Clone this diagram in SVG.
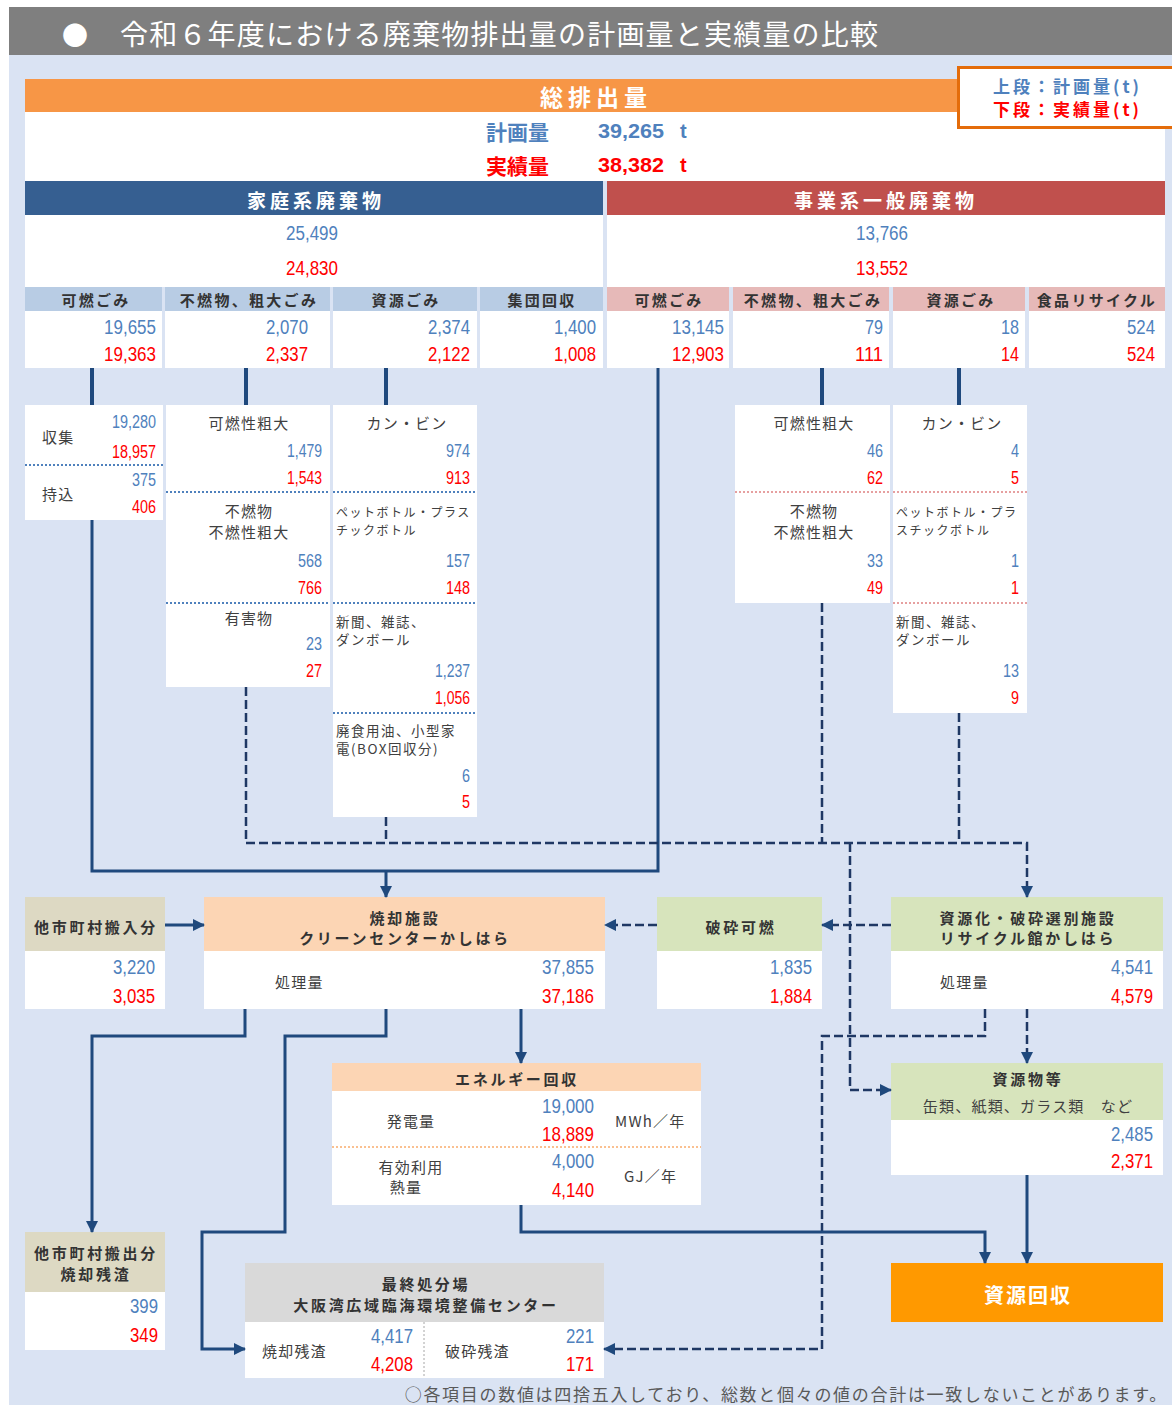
<svg xmlns="http://www.w3.org/2000/svg" width="1172" height="1405" viewBox="0 0 1172 1405">
<style>
.jp{font-family:'Noto Sans CJK JP',sans-serif}
.num{font-family:'Liberation Sans',sans-serif;font-size:20px;text-anchor:end;dominant-baseline:central}
.sn{font-size:18px}
.st{text-anchor:start}
.pl{fill:#4F81BD}
.ac{fill:#FF0000}
.hd{font-family:'Noto Sans CJK JP',sans-serif;font-weight:bold;text-anchor:middle;dominant-baseline:central}
.hb{font-size:15px;fill:#333;letter-spacing:2.7px}
.sub{font-family:'Noto Sans CJK JP',sans-serif;font-weight:bold;font-size:15px;fill:#333;text-anchor:middle;dominant-baseline:central;letter-spacing:2.3px}
.lbl{font-family:'Noto Sans CJK JP',sans-serif;font-size:15px;fill:#404040;dominant-baseline:central;letter-spacing:1.2px}
.mid{text-anchor:middle}
.sm{font-size:12px;letter-spacing:1.5px}
.sm2{font-size:13.5px;letter-spacing:1.5px}
.sol{stroke:#1F497D;stroke-width:3;fill:none}
.stub{stroke:#1F497D;stroke-width:4;fill:none}
.dsh{stroke:#1F3864;stroke-width:2.5;fill:none;stroke-dasharray:9 4}
.bdot{stroke:#4F81BD;stroke-width:2;stroke-dasharray:2 2}
.pdot{stroke:#E6A0A0;stroke-width:2;stroke-dasharray:2 2}
</style>
<defs>
<marker id="ah" markerUnits="userSpaceOnUse" markerWidth="12" markerHeight="12" refX="11" refY="6" orient="auto">
<path d="M0,0 L12,6 L0,12 z" fill="#1F497D"/>
</marker>
</defs>
<rect x="0" y="0" width="1172" height="1405" fill="#fff"/>
<rect x="9" y="7" width="1163" height="48" fill="#7F7F7F"/>
<rect x="9" y="55" width="1163" height="1350" fill="#DAE3F3"/>
<text class="jp" x="75" y="33" font-size="26" fill="#fff" text-anchor="middle" dominant-baseline="central">●</text>
<text class="jp" x="120" y="33" font-size="28" fill="#fff" dominant-baseline="central" letter-spacing="1.2">令和６年度における廃棄物排出量の計画量と実績量の比較</text>

<g id="total">
<rect x="25" y="79" width="1140" height="33" fill="#F79646"/>
<text class="hd" x="596" y="96" font-size="23" fill="#fff" letter-spacing="5">総排出量</text>
<rect x="25" y="112" width="1140" height="69" fill="#fff"/>
<text class="jp" x="486" y="131" font-size="21" font-weight="bold" fill="#4F81BD" dominant-baseline="central">計画量</text>
<text class="num st" x="598" y="131" font-size="22" font-weight="bold" fill="#4F81BD" textLength="66" lengthAdjust="spacingAndGlyphs">39,265</text>
<text class="num st" x="680" y="131" font-size="22" font-weight="bold" fill="#4F81BD">t</text>
<text class="jp" x="486" y="165" font-size="21" font-weight="bold" fill="#FF0000" dominant-baseline="central">実績量</text>
<text class="num st" x="598" y="165" font-size="22" font-weight="bold" fill="#FF0000" textLength="66" lengthAdjust="spacingAndGlyphs">38,382</text>
<text class="num st" x="680" y="165" font-size="22" font-weight="bold" fill="#FF0000">t</text>
</g>

<g id="legend">
<rect x="958.5" y="67.5" width="220" height="60" fill="#fff" stroke="#E46C0A" stroke-width="3"/>
<text class="jp" x="993" y="85" font-size="17" font-weight="bold" fill="#4F81BD" dominant-baseline="central" letter-spacing="3">上段：計画量(t)</text>
<text class="jp" x="993" y="108" font-size="17" font-weight="bold" fill="#FF0000" dominant-baseline="central" letter-spacing="3">下段：実績量(t)</text>
</g>

<g id="household">
<rect x="25" y="181" width="578" height="34" fill="#365F91"/>
<text class="hd" x="316" y="199" font-size="19" fill="#fff" letter-spacing="4">家庭系廃棄物</text>
<rect x="25" y="215" width="578" height="72" fill="#fff"/>
<text class="num mid pl" x="312" y="233" textLength="52" lengthAdjust="spacingAndGlyphs">25,499</text>
<text class="num mid ac" x="312" y="268" textLength="52" lengthAdjust="spacingAndGlyphs">24,830</text>
</g>
<g id="business">
<rect x="607" y="181" width="558" height="34" fill="#C0504D"/>
<text class="hd" x="886" y="199" font-size="19" fill="#fff" letter-spacing="4">事業系一般廃棄物</text>
<rect x="607" y="215" width="558" height="72" fill="#fff"/>
<text class="num mid pl" x="882" y="233" textLength="52" lengthAdjust="spacingAndGlyphs">13,766</text>
<text class="num mid ac" x="882" y="268" textLength="52" lengthAdjust="spacingAndGlyphs">13,552</text>
</g>

<g id="h-kanen">
<rect x="25" y="287" width="137" height="24" fill="#B8CCE4"/>
<rect x="25" y="311" width="137" height="57" fill="#fff"/>
<text class="sub" x="96" y="299">可燃ごみ</text>
<text class="num pl" x="156" y="327" textLength="52" lengthAdjust="spacingAndGlyphs">19,655</text>
<text class="num ac" x="156" y="354" textLength="52" lengthAdjust="spacingAndGlyphs">19,363</text>
</g>
<g id="h-funen">
<rect x="165" y="287" width="165" height="24" fill="#B8CCE4"/>
<rect x="165" y="311" width="165" height="57" fill="#fff"/>
<text class="sub" x="249" y="299">不燃物、粗大ごみ</text>
<text class="num pl" x="308" y="327" textLength="42" lengthAdjust="spacingAndGlyphs">2,070</text>
<text class="num ac" x="308" y="354" textLength="42" lengthAdjust="spacingAndGlyphs">2,337</text>
</g>
<g id="h-shigen">
<rect x="333" y="287" width="144" height="24" fill="#B8CCE4"/>
<rect x="333" y="311" width="144" height="57" fill="#fff"/>
<text class="sub" x="406" y="299">資源ごみ</text>
<text class="num pl" x="470" y="327" textLength="42" lengthAdjust="spacingAndGlyphs">2,374</text>
<text class="num ac" x="470" y="354" textLength="42" lengthAdjust="spacingAndGlyphs">2,122</text>
</g>
<g id="h-shudan">
<rect x="480" y="287" width="123" height="24" fill="#B8CCE4"/>
<rect x="480" y="311" width="123" height="57" fill="#fff"/>
<text class="sub" x="542" y="299">集団回収</text>
<text class="num pl" x="596" y="327" textLength="42" lengthAdjust="spacingAndGlyphs">1,400</text>
<text class="num ac" x="596" y="354" textLength="42" lengthAdjust="spacingAndGlyphs">1,008</text>
</g>

<g id="b-kanen">
<rect x="607" y="287" width="122" height="24" fill="#E6B9B8"/>
<rect x="607" y="311" width="122" height="57" fill="#fff"/>
<text class="sub" x="669" y="299">可燃ごみ</text>
<text class="num pl" x="724" y="327" textLength="52" lengthAdjust="spacingAndGlyphs">13,145</text>
<text class="num ac" x="724" y="354" textLength="52" lengthAdjust="spacingAndGlyphs">12,903</text>
</g>
<g id="b-funen">
<rect x="733" y="287" width="156" height="24" fill="#E6B9B8"/>
<rect x="733" y="311" width="156" height="57" fill="#fff"/>
<text class="sub" x="813" y="299">不燃物、粗大ごみ</text>
<text class="num pl" x="883" y="327" textLength="18" lengthAdjust="spacingAndGlyphs">79</text>
<text class="num ac" x="883" y="354" textLength="28" lengthAdjust="spacingAndGlyphs">111</text>
</g>
<g id="b-shigen">
<rect x="893" y="287" width="132" height="24" fill="#E6B9B8"/>
<rect x="893" y="311" width="132" height="57" fill="#fff"/>
<text class="sub" x="961" y="299">資源ごみ</text>
<text class="num pl" x="1019" y="327" textLength="18" lengthAdjust="spacingAndGlyphs">18</text>
<text class="num ac" x="1019" y="354" textLength="18" lengthAdjust="spacingAndGlyphs">14</text>
</g>
<g id="b-food">
<rect x="1029" y="287" width="136" height="24" fill="#E6B9B8"/>
<rect x="1029" y="311" width="136" height="57" fill="#fff"/>
<text class="sub" x="1097" y="299">食品リサイクル</text>
<text class="num pl" x="1155" y="327" textLength="28" lengthAdjust="spacingAndGlyphs">524</text>
<text class="num ac" x="1155" y="354" textLength="28" lengthAdjust="spacingAndGlyphs">524</text>
</g>

<g id="h-collect">
<rect x="25" y="405" width="138" height="115" fill="#fff"/>
<line class="bdot" x1="25" y1="465" x2="163" y2="465"/>
<text class="lbl" x="42" y="436">収集</text>
<text class="num sn pl" x="156" y="422" textLength="44" lengthAdjust="spacingAndGlyphs">19,280</text>
<text class="num sn ac" x="156" y="452" textLength="44" lengthAdjust="spacingAndGlyphs">18,957</text>
<text class="lbl" x="42" y="493">持込</text>
<text class="num sn pl" x="156" y="480" textLength="24" lengthAdjust="spacingAndGlyphs">375</text>
<text class="num sn ac" x="156" y="507" textLength="24" lengthAdjust="spacingAndGlyphs">406</text>
</g>

<g id="h-funen-detail">
<rect x="166" y="405" width="164" height="282" fill="#fff"/>
<line class="bdot" x1="166" y1="492" x2="330" y2="492"/>
<line class="bdot" x1="166" y1="603" x2="330" y2="603"/>
<text class="lbl mid" x="249" y="422">可燃性粗大</text>
<text class="num sn pl" x="322" y="451" textLength="35" lengthAdjust="spacingAndGlyphs">1,479</text>
<text class="num sn ac" x="322" y="478" textLength="35" lengthAdjust="spacingAndGlyphs">1,543</text>
<text class="lbl mid" x="249" y="510">不燃物</text>
<text class="lbl mid" x="249" y="531">不燃性粗大</text>
<text class="num sn pl" x="322" y="561" textLength="24" lengthAdjust="spacingAndGlyphs">568</text>
<text class="num sn ac" x="322" y="588" textLength="24" lengthAdjust="spacingAndGlyphs">766</text>
<text class="lbl mid" x="249" y="617">有害物</text>
<text class="num sn pl" x="322" y="644" textLength="16" lengthAdjust="spacingAndGlyphs">23</text>
<text class="num sn ac" x="322" y="671" textLength="16" lengthAdjust="spacingAndGlyphs">27</text>
</g>

<g id="h-shigen-detail">
<rect x="333" y="405" width="144" height="412" fill="#fff"/>
<line class="bdot" x1="333" y1="492" x2="477" y2="492"/>
<line class="bdot" x1="333" y1="603" x2="477" y2="603"/>
<line class="bdot" x1="333" y1="713" x2="477" y2="713"/>
<text class="lbl mid" x="407" y="422" letter-spacing="2.5">カン・ビン</text>
<text class="num sn pl" x="470" y="451" textLength="24" lengthAdjust="spacingAndGlyphs">974</text>
<text class="num sn ac" x="470" y="478" textLength="24" lengthAdjust="spacingAndGlyphs">913</text>
<text class="lbl sm" x="336" y="511">ペットボトル・プラス</text>
<text class="lbl sm" x="336" y="529">チックボトル</text>
<text class="num sn pl" x="470" y="561" textLength="24" lengthAdjust="spacingAndGlyphs">157</text>
<text class="num sn ac" x="470" y="588" textLength="24" lengthAdjust="spacingAndGlyphs">148</text>
<text class="lbl sm2" x="336" y="621">新聞、雑誌、</text>
<text class="lbl sm2" x="336" y="639">ダンボール</text>
<text class="num sn pl" x="470" y="671" textLength="35" lengthAdjust="spacingAndGlyphs">1,237</text>
<text class="num sn ac" x="470" y="698" textLength="35" lengthAdjust="spacingAndGlyphs">1,056</text>
<text class="lbl sm2" x="336" y="730" letter-spacing="2.5">廃食用油、小型家</text>
<text class="lbl sm2" x="336" y="748" letter-spacing="2">電(BOX回収分)</text>
<text class="num sn pl" x="470" y="776" textLength="8" lengthAdjust="spacingAndGlyphs">6</text>
<text class="num sn ac" x="470" y="802" textLength="8" lengthAdjust="spacingAndGlyphs">5</text>
</g>

<g id="b-funen-detail">
<rect x="735" y="405" width="155" height="198" fill="#fff"/>
<line class="pdot" x1="735" y1="492" x2="890" y2="492"/>
<text class="lbl mid" x="814" y="422">可燃性粗大</text>
<text class="num sn pl" x="883" y="451" textLength="16" lengthAdjust="spacingAndGlyphs">46</text>
<text class="num sn ac" x="883" y="478" textLength="16" lengthAdjust="spacingAndGlyphs">62</text>
<text class="lbl mid" x="814" y="510">不燃物</text>
<text class="lbl mid" x="814" y="531">不燃性粗大</text>
<text class="num sn pl" x="883" y="561" textLength="16" lengthAdjust="spacingAndGlyphs">33</text>
<text class="num sn ac" x="883" y="588" textLength="16" lengthAdjust="spacingAndGlyphs">49</text>
</g>

<g id="b-shigen-detail">
<rect x="893" y="405" width="134" height="308" fill="#fff"/>
<line class="pdot" x1="893" y1="492" x2="1027" y2="492"/>
<line class="pdot" x1="893" y1="603" x2="1027" y2="603"/>
<text class="lbl mid" x="962" y="422" letter-spacing="2.5">カン・ビン</text>
<text class="num sn pl" x="1019" y="451" textLength="8" lengthAdjust="spacingAndGlyphs">4</text>
<text class="num sn ac" x="1019" y="478" textLength="8" lengthAdjust="spacingAndGlyphs">5</text>
<text class="lbl sm" x="896" y="511">ペットボトル・プラ</text>
<text class="lbl sm" x="896" y="529">スチックボトル</text>
<text class="num sn pl" x="1019" y="561" textLength="8" lengthAdjust="spacingAndGlyphs">1</text>
<text class="num sn ac" x="1019" y="588" textLength="8" lengthAdjust="spacingAndGlyphs">1</text>
<text class="lbl sm2" x="896" y="621">新聞、雑誌、</text>
<text class="lbl sm2" x="896" y="639">ダンボール</text>
<text class="num sn pl" x="1019" y="671" textLength="16" lengthAdjust="spacingAndGlyphs">13</text>
<text class="num sn ac" x="1019" y="698" textLength="8" lengthAdjust="spacingAndGlyphs">9</text>
</g>

<g id="other-in">
<rect x="25" y="897" width="140" height="54" fill="#DDD9C3"/>
<rect x="25" y="951" width="140" height="58" fill="#fff"/>
<text class="hd hb" x="96" y="926">他市町村搬入分</text>
<text class="num pl" x="155" y="967" textLength="42" lengthAdjust="spacingAndGlyphs">3,220</text>
<text class="num ac" x="155" y="996" textLength="42" lengthAdjust="spacingAndGlyphs">3,035</text>
</g>

<g id="incinerator">
<rect x="204" y="897" width="401" height="54" fill="#FCD5B4"/>
<rect x="204" y="951" width="401" height="58" fill="#fff"/>
<text class="hd hb" x="405" y="917">焼却施設</text>
<text class="hd hb" x="405" y="937">クリーンセンターかしはら</text>
<text class="lbl" x="275" y="981">処理量</text>
<text class="num pl" x="594" y="967" textLength="52" lengthAdjust="spacingAndGlyphs">37,855</text>
<text class="num ac" x="594" y="996" textLength="52" lengthAdjust="spacingAndGlyphs">37,186</text>
</g>

<g id="crushed">
<rect x="657" y="897" width="165" height="54" fill="#D7E4BC"/>
<rect x="657" y="951" width="165" height="58" fill="#fff"/>
<text class="hd hb" x="741" y="926">破砕可燃</text>
<text class="num pl" x="812" y="967" textLength="42" lengthAdjust="spacingAndGlyphs">1,835</text>
<text class="num ac" x="812" y="996" textLength="42" lengthAdjust="spacingAndGlyphs">1,884</text>
</g>

<g id="recycle">
<rect x="891" y="897" width="272" height="54" fill="#D7E4BC"/>
<rect x="891" y="951" width="272" height="58" fill="#fff"/>
<text class="hd hb" x="1028" y="917">資源化・破砕選別施設</text>
<text class="hd hb" x="1028" y="937">リサイクル館かしはら</text>
<text class="lbl" x="940" y="981">処理量</text>
<text class="num pl" x="1153" y="967" textLength="42" lengthAdjust="spacingAndGlyphs">4,541</text>
<text class="num ac" x="1153" y="996" textLength="42" lengthAdjust="spacingAndGlyphs">4,579</text>
</g>

<g id="energy">
<rect x="332" y="1063" width="369" height="28" fill="#FCD5B4"/>
<rect x="332" y="1091" width="369" height="114" fill="#fff"/>
<line x1="332" y1="1147" x2="701" y2="1147" stroke="#FAC090" stroke-width="2" stroke-dasharray="2 2"/>
<text class="hd hb" x="517" y="1078">エネルギー回収</text>
<text class="lbl mid" x="411" y="1120">発電量</text>
<text class="num pl" x="594" y="1106" textLength="52" lengthAdjust="spacingAndGlyphs">19,000</text>
<text class="num ac" x="594" y="1134" textLength="52" lengthAdjust="spacingAndGlyphs">18,889</text>
<text class="lbl" x="615" y="1120" letter-spacing="2">MWh／年</text>
<text class="lbl mid" x="411" y="1166">有効利用</text>
<text class="lbl mid" x="406" y="1186">熱量</text>
<text class="num pl" x="594" y="1161" textLength="42" lengthAdjust="spacingAndGlyphs">4,000</text>
<text class="num ac" x="594" y="1190" textLength="42" lengthAdjust="spacingAndGlyphs">4,140</text>
<text class="lbl" x="624" y="1175" letter-spacing="3.5">GJ／年</text>
</g>

<g id="resources">
<rect x="891" y="1063" width="272" height="57" fill="#D7E4BC"/>
<rect x="891" y="1120" width="272" height="55" fill="#fff"/>
<text class="hd hb" x="1028" y="1078">資源物等</text>
<text class="lbl mid" x="1028" y="1105" letter-spacing="1.4">缶類、紙類、ガラス類　など</text>
<text class="num pl" x="1153" y="1134" textLength="42" lengthAdjust="spacingAndGlyphs">2,485</text>
<text class="num ac" x="1153" y="1161" textLength="42" lengthAdjust="spacingAndGlyphs">2,371</text>
</g>

<g id="recovery">
<rect x="891" y="1263" width="272" height="59" fill="#FF9900"/>
<text class="hd" x="1028" y="1294" font-size="20" fill="#fff" letter-spacing="2">資源回収</text>
</g>

<g id="other-out">
<rect x="25" y="1232" width="140" height="60" fill="#DDD9C3"/>
<rect x="25" y="1292" width="140" height="58" fill="#fff"/>
<text class="hd hb" x="96" y="1252">他市町村搬出分</text>
<text class="hd hb" x="96" y="1273">焼却残渣</text>
<text class="num pl" x="158" y="1306" textLength="28" lengthAdjust="spacingAndGlyphs">399</text>
<text class="num ac" x="158" y="1335" textLength="28" lengthAdjust="spacingAndGlyphs">349</text>
</g>

<g id="landfill">
<rect x="245" y="1263" width="359" height="59" fill="#D9D9D9"/>
<rect x="245" y="1322" width="359" height="56" fill="#fff"/>
<line x1="424" y1="1322" x2="424" y2="1378" stroke="#A6A6A6" stroke-width="1" stroke-dasharray="2 2"/>
<text class="hd hb" x="426" y="1283">最終処分場</text>
<text class="hd hb" x="426" y="1304">大阪湾広域臨海環境整備センター</text>
<text class="lbl" x="262" y="1350">焼却残渣</text>
<text class="num pl" x="413" y="1336" textLength="42" lengthAdjust="spacingAndGlyphs">4,417</text>
<text class="num ac" x="413" y="1364" textLength="42" lengthAdjust="spacingAndGlyphs">4,208</text>
<text class="lbl" x="445" y="1350">破砕残渣</text>
<text class="num pl" x="594" y="1336" textLength="28" lengthAdjust="spacingAndGlyphs">221</text>
<text class="num ac" x="594" y="1364" textLength="28" lengthAdjust="spacingAndGlyphs">171</text>
</g>

<g id="connectors">
<line class="stub" x1="92" y1="368" x2="92" y2="405"/>
<line class="stub" x1="246" y1="368" x2="246" y2="405"/>
<line class="stub" x1="386" y1="368" x2="386" y2="405"/>
<line class="stub" x1="822" y1="368" x2="822" y2="405"/>
<line class="stub" x1="959" y1="368" x2="959" y2="405"/>
<path class="sol" d="M92,520 V871 H658 V368"/>
<path class="sol" d="M386,871 V897" marker-end="url(#ah)"/>
<path class="sol" d="M165,925 H204" marker-end="url(#ah)"/>
<path class="dsh" d="M246,687 V843 H1027 V897" marker-end="url(#ah)"/>
<path class="dsh" d="M386,817 V843"/>
<path class="dsh" d="M822,603 V843"/>
<path class="dsh" d="M959,713 V843"/>
<path class="dsh" d="M850,843 V1090 H891" marker-end="url(#ah)"/>
<path class="dsh" d="M891,925 H822" marker-end="url(#ah)"/>
<path class="dsh" d="M657,925 H605" marker-end="url(#ah)"/>
<path class="dsh" d="M985,1009 V1036 H822 V1349 H604" marker-end="url(#ah)"/>
<path class="dsh" d="M1027,1009 V1063" marker-end="url(#ah)"/>
<path class="sol" d="M245,1009 V1036 H92 V1232" marker-end="url(#ah)"/>
<path class="sol" d="M386,1009 V1036 H285 V1232 H202 V1349 H245" marker-end="url(#ah)"/>
<path class="sol" d="M521,1009 V1063" marker-end="url(#ah)"/>
<path class="sol" d="M521,1205 V1232 H985 V1263" marker-end="url(#ah)"/>
<path class="sol" d="M1027,1175 V1263" marker-end="url(#ah)"/>
</g>

<text class="jp" x="1168" y="1393" font-size="17" fill="#595959" text-anchor="end" dominant-baseline="central" letter-spacing="1.7">○各項目の数値は四捨五入しており、総数と個々の値の合計は一致しないことがあります。</text>
</svg>
